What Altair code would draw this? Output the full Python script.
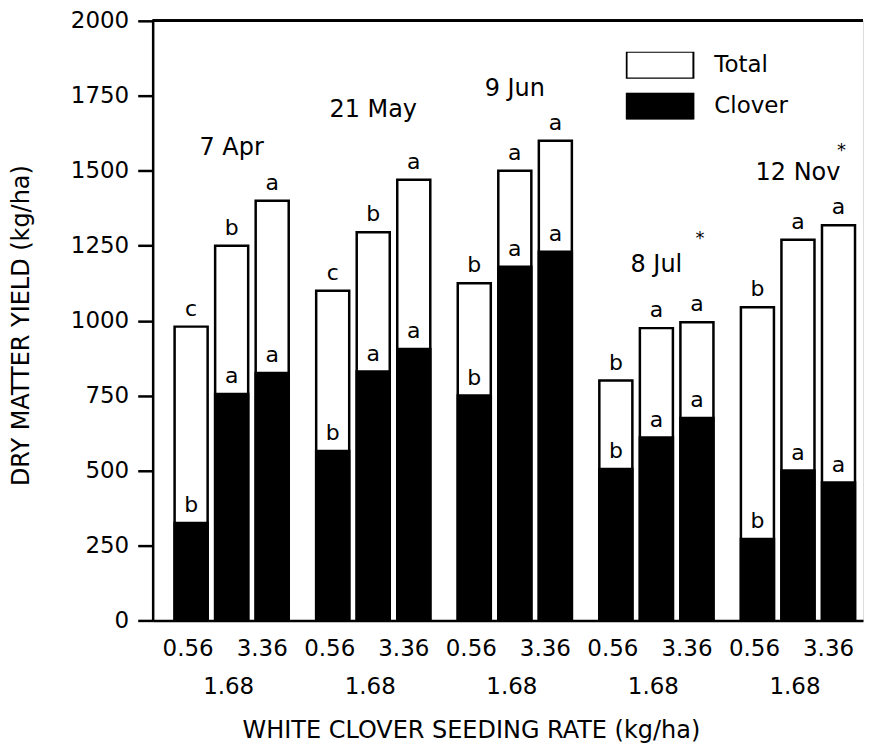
import altair as alt
import pandas as pd

dates = ["7 Apr", "21 May", "9 Jun", "8 Jul", "12 Nov"]
rates = ["0.56", "1.68", "3.36"]
total = [980, 1250, 1400, 1100, 1295, 1470, 1125, 1500, 1600, 800, 975, 995, 1045, 1270, 1318]
clover = [325, 755, 825, 565, 830, 905, 750, 1180, 1230, 505, 610, 675, 272, 500, 460]
total_letters = ["c", "b", "a", "c", "b", "a", "b", "a", "a", "b", "a", "a", "b", "a", "a"]
clover_letters = ["b", "a", "a", "b", "a", "a", "b", "a", "a", "b", "a", "a", "b", "a", "a"]
date_label_y = [1576, 1702, 1771, 1185, 1493]
star_dates = ["8 Jul", "12 Nov"]
star_y = [1272, 1566]
series = ["Total", "Clover"]

FONT = "DejaVu Sans"

rows = []
wide = []
i = 0
for d in dates:
    for r in rates:
        rows.append({"date": d, "rate": r, "series": "Total", "value": total[i]})
        rows.append({"date": d, "rate": r, "series": "Clover", "value": clover[i]})
        wide.append({"date": d, "rate": r, "total": total[i], "clover": clover[i],
                     "tl": total_letters[i], "cl": clover_letters[i]})
        i += 1
long_df = pd.DataFrame(rows)
wide_df = pd.DataFrame(wide)
date_df = pd.DataFrame({"date": dates, "y": date_label_y})
star_df = pd.DataFrame({"date": star_dates, "y": star_y, "rate": ["3.36", "3.36"], "s": ["*", "*"]})

x_axis = alt.Axis(labels=False, ticks=False, domain=True, domainColor="black", domainWidth=2.5,
                  title="WHITE CLOVER SEEDING RATE (kg/ha)", titleFont=FONT, titleFontSize=24,
                  titleFontWeight="normal", titleColor="black", titleX=319, titleY=110,
                  titleAlign="center", titleBaseline="middle", grid=False)
y_axis = alt.Axis(values=list(range(0, 2001, 250)), format="d", grid=False, domainColor="black",
                  domainWidth=2.5, tickColor="black", tickWidth=2.5, tickSize=15, labelFont=FONT,
                  labelFontSize=23, labelColor="black", labelPadding=9, title="DRY MATTER YIELD (kg/ha)",
                  titleFont=FONT, titleFontSize=24, titleFontWeight="normal", titleColor="black",
                  titleAngle=270, titleAlign="center", titleBaseline="middle", titleX=-131, titleY=305)

xscale = alt.Scale(paddingInner=0.194, paddingOuter=0.1057, align=0.733)
xoscale = alt.Scale(paddingInner=0.185, paddingOuter=0)
yscale = alt.Scale(domain=[0, 2000], nice=False)


def X():
    return alt.X("date:N", sort=dates, scale=xscale, axis=x_axis)


def XO():
    return alt.XOffset("rate:N", sort=rates, scale=xoscale)


def Y(field):
    return alt.Y(field, scale=yscale, axis=y_axis)


fill = alt.Fill("series:N", scale=alt.Scale(domain=series, range=["white", "black"]),
                legend=alt.Legend(title=None, orient="none", legendX=474, legendY=31,
                                  symbolType="M-1,-0.4H1V0.4H-1Z", symbolSize=4489,
                                  symbolStrokeColor="black", symbolStrokeWidth=2,
                                  symbolOpacity=1, clipHeight=27,
                                  labelFont=FONT, labelFontSize=23, labelColor="black",
                                  labelOffset=20, rowPadding=14))

base_long = alt.Chart(long_df)
base_wide = alt.Chart(wide_df)

total_bars = base_long.transform_filter(alt.datum.series == "Total").mark_bar(
    stroke="black", strokeWidth=2.5, opacity=1).encode(x=X(), xOffset=XO(), y=Y("value:Q"), fill=fill)
clover_bars = base_long.transform_filter(alt.datum.series == "Clover").mark_bar(
    stroke="black", strokeWidth=2.5, opacity=1).encode(x=X(), xOffset=XO(), y=Y("value:Q"), fill=fill)

tl_text = base_wide.mark_text(font=FONT, fontSize=22, color="black", baseline="alphabetic", dy=-11).encode(
    x=X(), xOffset=XO(), y=Y("total:Q"), text="tl:N")
cl_text = base_wide.mark_text(font=FONT, fontSize=22, color="black", baseline="alphabetic", dy=-11).encode(
    x=X(), xOffset=XO(), y=Y("clover:Q"), text="cl:N")

date_text = alt.Chart(date_df).mark_text(font=FONT, fontSize=24, color="black", baseline="middle").encode(
    x=X(), y=Y("y:Q"), text="date:N")
star_text = alt.Chart(star_df).mark_text(font=FONT, fontSize=18, color="black", baseline="middle", dx=3).encode(
    x=X(), xOffset=XO(), y=Y("y:Q"), text="s:N")


def rate_labels(rate, dy, dx):
    return base_wide.transform_filter(alt.datum.rate == rate).mark_text(
        font=FONT, fontSize=23, color="black", baseline="middle", dy=dy, dx=dx).encode(
        x=X(), xOffset=XO(), y=alt.datum(0), text="rate:N")


lab1 = rate_labels("0.56", 29, -3)
lab2 = rate_labels("1.68", 67, -3)
lab3 = rate_labels("3.36", 29, -10)

top_rule = alt.Chart(date_df).mark_rule(color="black", strokeWidth=2.5).encode(y=alt.datum(2000))

chart = alt.layer(total_bars, clover_bars, tl_text, cl_text, date_text, star_text,
                  lab1, lab2, lab3, top_rule).properties(
    width=712, height=601,
    autosize=alt.AutoSizeParams(type="none"),
    padding={"left": 145, "top": 12, "right": 4, "bottom": 124},
).configure_view(strokeWidth=0).configure(background="white")

chart.save("out.html", embed_options={"renderer": "svg", "actions": False})
